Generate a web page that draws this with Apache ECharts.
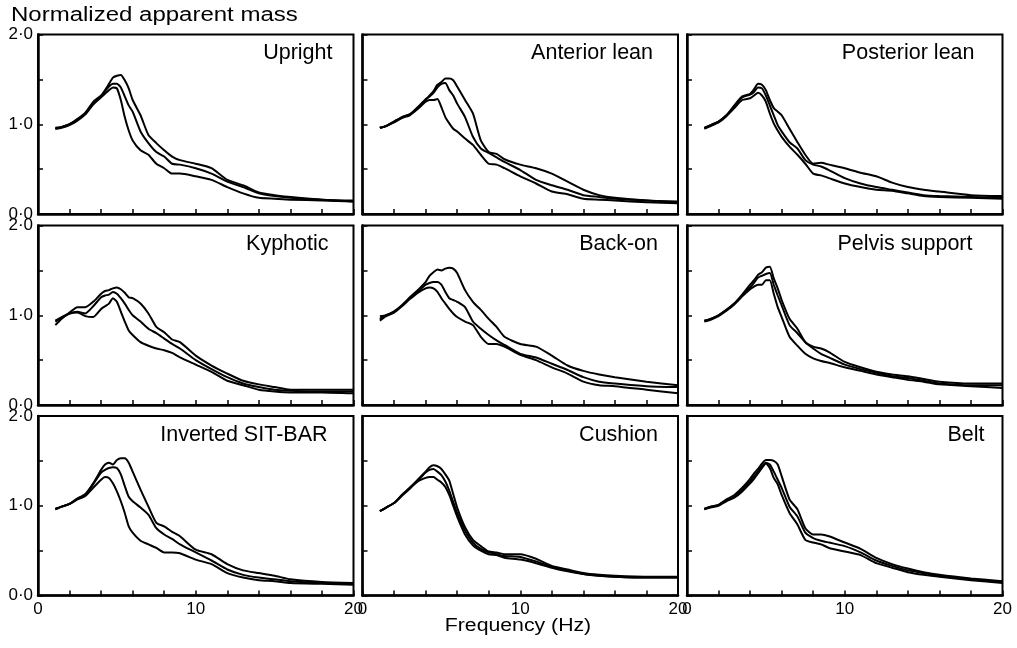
<!DOCTYPE html>
<html>
<head>
<meta charset="utf-8">
<script src="https://cdn.jsdelivr.net/npm/echarts@6/dist/echarts.min.js"></script>
<style>
  html, body { margin: 0; padding: 0; background: #fff; }
  #chart { width: 1017px; height: 648px; }
</style>
</head>
<body>
<div id="chart"></div>
<script>
// ---- Data ----
const FREQ = [1.1,1.5,2,2.5,3,3.5,4,4.25,4.5,4.75,5,5.25,5.5,5.75,6,6.5,7,7.5,8,8.5,9,10,11,12,13,14,15,16,18,20];
const PANEL_NAMES = ['Upright','Anterior lean','Posterior lean','Kyphotic','Back-on','Pelvis support','Inverted SIT-BAR','Cushion','Belt'];
const X_TICK_LABELS = ['0','10','20'];
const Y_TICK_LABELS = ['0·0','1·0','2·0'];
const Y_TITLE = 'Normalized apparent mass';
const X_TITLE = 'Frequency (Hz)';

const UPRIGHT_A = [0.96,0.97,1.00,1.06,1.13,1.25,1.32,1.38,1.45,1.52,1.54,1.55,1.49,1.40,1.27,1.10,0.88,0.79,0.71,0.64,0.60,0.56,0.51,0.38,0.32,0.24,0.21,0.19,0.16,0.15];
const UPRIGHT_B = [0.95,0.97,1.00,1.05,1.12,1.23,1.31,1.37,1.42,1.45,1.45,1.41,1.31,1.21,1.14,0.92,0.79,0.69,0.64,0.56,0.55,0.51,0.45,0.36,0.30,0.23,0.20,0.18,0.16,0.14];
const UPRIGHT_C = [0.95,0.96,0.99,1.04,1.11,1.22,1.30,1.34,1.38,1.41,1.40,1.27,1.08,0.93,0.82,0.71,0.66,0.56,0.51,0.45,0.45,0.42,0.38,0.30,0.23,0.18,0.17,0.16,0.15,0.14];

const ANTERIOR_A = [0.96,0.98,1.03,1.08,1.11,1.18,1.27,1.32,1.37,1.44,1.47,1.51,1.51,1.49,1.42,1.27,1.12,0.82,0.69,0.67,0.61,0.55,0.51,0.45,0.36,0.27,0.21,0.18,0.15,0.14];
const ANTERIOR_B = [0.96,0.98,1.03,1.08,1.11,1.19,1.28,1.31,1.35,1.41,1.45,1.46,1.38,1.32,1.23,1.08,0.86,0.73,0.68,0.63,0.58,0.49,0.38,0.32,0.27,0.21,0.19,0.17,0.15,0.13];
const ANTERIOR_C = [0.96,0.98,1.02,1.07,1.10,1.17,1.25,1.27,1.27,1.28,1.19,1.08,1.01,0.95,0.92,0.84,0.77,0.66,0.56,0.55,0.51,0.42,0.34,0.25,0.22,0.17,0.16,0.15,0.13,0.12];

const POSTERIOR_A = [0.96,0.99,1.03,1.10,1.21,1.31,1.34,1.39,1.45,1.44,1.38,1.27,1.18,1.14,1.10,0.95,0.80,0.66,0.56,0.57,0.55,0.51,0.46,0.42,0.35,0.30,0.27,0.25,0.21,0.20];
const POSTERIOR_B = [0.96,0.99,1.03,1.10,1.20,1.30,1.33,1.36,1.41,1.40,1.32,1.21,1.10,0.99,0.92,0.80,0.73,0.60,0.55,0.53,0.49,0.40,0.34,0.30,0.27,0.24,0.21,0.20,0.19,0.18];
const POSTERIOR_C = [0.95,0.98,1.02,1.09,1.18,1.27,1.29,1.32,1.35,1.32,1.25,1.12,1.01,0.93,0.86,0.75,0.66,0.56,0.45,0.43,0.40,0.34,0.30,0.27,0.26,0.23,0.20,0.19,0.18,0.17];

const KYPHOTIC_A = [0.89,0.96,1.03,1.09,1.09,1.15,1.24,1.27,1.28,1.30,1.31,1.29,1.25,1.20,1.19,1.13,1.02,0.87,0.81,0.73,0.70,0.55,0.44,0.35,0.27,0.23,0.20,0.17,0.17,0.17];
const KYPHOTIC_B = [0.93,0.97,1.02,1.04,1.02,1.10,1.20,1.22,1.23,1.26,1.24,1.19,1.13,1.06,1.00,0.93,0.85,0.80,0.74,0.68,0.63,0.50,0.40,0.31,0.24,0.20,0.17,0.16,0.15,0.15];
const KYPHOTIC_C = [0.94,0.98,1.02,1.03,0.99,0.98,1.07,1.10,1.13,1.19,1.15,1.04,0.93,0.83,0.78,0.70,0.66,0.63,0.61,0.58,0.53,0.45,0.37,0.27,0.22,0.17,0.15,0.14,0.14,0.13];

const BACKON_A = [0.99,1.00,1.04,1.11,1.20,1.28,1.37,1.44,1.48,1.51,1.50,1.52,1.53,1.52,1.47,1.28,1.15,1.06,0.96,0.87,0.76,0.68,0.65,0.55,0.44,0.38,0.34,0.31,0.26,0.22];
const BACKON_B = [0.96,1.00,1.04,1.11,1.19,1.26,1.34,1.36,1.37,1.37,1.34,1.26,1.19,1.17,1.15,1.09,0.93,0.85,0.78,0.72,0.67,0.57,0.53,0.46,0.39,0.31,0.26,0.24,0.21,0.20];
const BACKON_C = [0.94,0.99,1.03,1.10,1.18,1.25,1.30,1.31,1.30,1.26,1.19,1.13,1.07,1.02,0.98,0.93,0.89,0.76,0.68,0.68,0.65,0.56,0.50,0.42,0.35,0.26,0.22,0.21,0.17,0.13];

const PELVIS_A = [0.94,0.96,1.00,1.06,1.13,1.23,1.34,1.39,1.45,1.48,1.53,1.54,1.41,1.30,1.17,0.96,0.85,0.70,0.65,0.63,0.59,0.48,0.42,0.37,0.34,0.32,0.29,0.26,0.24,0.24];
const PELVIS_B = [0.94,0.96,1.00,1.06,1.13,1.22,1.31,1.36,1.42,1.44,1.46,1.47,1.34,1.22,1.11,0.89,0.80,0.70,0.63,0.57,0.53,0.45,0.40,0.36,0.32,0.30,0.27,0.24,0.22,0.22];
const PELVIS_C = [0.93,0.95,0.99,1.05,1.12,1.21,1.29,1.32,1.34,1.34,1.39,1.39,1.24,1.09,0.98,0.76,0.66,0.57,0.52,0.49,0.47,0.42,0.38,0.34,0.31,0.28,0.26,0.23,0.21,0.19];

const INVERTED_A = [0.97,0.99,1.02,1.08,1.13,1.25,1.40,1.46,1.48,1.46,1.51,1.53,1.53,1.48,1.38,1.18,0.99,0.81,0.77,0.71,0.66,0.51,0.46,0.35,0.28,0.25,0.22,0.18,0.15,0.14];
const INVERTED_B = [0.96,0.99,1.02,1.08,1.12,1.24,1.37,1.40,1.42,1.43,1.42,1.35,1.22,1.10,1.05,0.98,0.90,0.75,0.68,0.63,0.57,0.48,0.39,0.29,0.23,0.20,0.18,0.16,0.14,0.13];
const INVERTED_C = [0.96,0.99,1.02,1.07,1.11,1.20,1.29,1.32,1.31,1.25,1.16,1.05,0.92,0.77,0.70,0.61,0.57,0.53,0.48,0.48,0.47,0.40,0.35,0.25,0.20,0.17,0.16,0.14,0.13,0.12];

const CUSHION_A = [0.94,0.98,1.03,1.12,1.20,1.29,1.38,1.43,1.45,1.44,1.41,1.35,1.28,1.13,0.98,0.76,0.62,0.55,0.49,0.48,0.46,0.46,0.41,0.33,0.29,0.25,0.23,0.22,0.21,0.21];
const CUSHION_B = [0.94,0.98,1.03,1.12,1.20,1.28,1.37,1.40,1.41,1.38,1.34,1.27,1.17,1.04,0.92,0.72,0.59,0.52,0.48,0.46,0.44,0.43,0.38,0.32,0.28,0.24,0.22,0.21,0.20,0.20];
const CUSHION_C = [0.94,0.98,1.03,1.11,1.19,1.27,1.31,1.32,1.32,1.29,1.26,1.21,1.12,1.00,0.88,0.68,0.56,0.50,0.46,0.45,0.42,0.40,0.36,0.31,0.27,0.24,0.22,0.21,0.20,0.20];

const BELT_A = [0.97,0.99,1.01,1.07,1.12,1.20,1.30,1.36,1.41,1.47,1.51,1.51,1.50,1.46,1.33,1.07,0.96,0.75,0.68,0.68,0.66,0.59,0.52,0.42,0.35,0.30,0.26,0.23,0.19,0.16];
const BELT_B = [0.96,0.99,1.01,1.06,1.10,1.18,1.27,1.33,1.38,1.44,1.48,1.46,1.38,1.29,1.20,0.99,0.88,0.70,0.64,0.61,0.59,0.55,0.48,0.39,0.33,0.28,0.25,0.22,0.18,0.15];
const BELT_C = [0.96,0.98,1.00,1.05,1.09,1.16,1.25,1.30,1.36,1.42,1.47,1.42,1.31,1.24,1.12,0.92,0.79,0.62,0.59,0.57,0.53,0.49,0.45,0.36,0.31,0.26,0.23,0.21,0.17,0.14];

const PANEL_SERIES = [
  [UPRIGHT_A, UPRIGHT_B, UPRIGHT_C],
  [ANTERIOR_A, ANTERIOR_B, ANTERIOR_C],
  [POSTERIOR_A, POSTERIOR_B, POSTERIOR_C],
  [KYPHOTIC_A, KYPHOTIC_B, KYPHOTIC_C],
  [BACKON_A, BACKON_B, BACKON_C],
  [PELVIS_A, PELVIS_B, PELVIS_C],
  [INVERTED_A, INVERTED_B, INVERTED_C],
  [CUSHION_A, CUSHION_B, CUSHION_C],
  [BELT_A, BELT_B, BELT_C]
];

// ---- Layout (styling only) ----
const COL_LEFT = [38, 362.5, 687];
const ROW_TOP = [34.5, 225.5, 416];
const PANEL_W = 315.5;
const PANEL_H = 179.5;
const LABEL_INSET = [21, 25, 28, 25, 20, 30, 26, 20, 18];
const FONT = '"Liberation Sans", Arial, Helvetica, sans-serif';

const chart = echarts.init(document.getElementById('chart'), null, { renderer: 'canvas' });

const grids = [], xAxes = [], yAxes = [], series = [], graphics = [];
PANEL_NAMES.forEach((name, i) => {
  const row = Math.floor(i / 3), col = i % 3;
  grids.push({
    left: COL_LEFT[col], top: ROW_TOP[row], width: PANEL_W, height: PANEL_H,
    show: true, borderColor: '#000', borderWidth: 2, backgroundColor: 'transparent'
  });
  xAxes.push({
    gridIndex: i, type: 'value', min: 0, max: 20, interval: 2,
    axisLine: { show: true, onZero: false, lineStyle: { color: '#000', width: 2.5 } },
    axisTick: { show: true, inside: true, length: 5, lineStyle: { color: '#000', width: 1.5 } },
    axisLabel: {
      show: row === 2, color: '#000', fontSize: 17, fontFamily: FONT, margin: 5,
      formatter: v => (v % 10 === 0 ? X_TICK_LABELS[v / 10] : '')
    },
    splitLine: { show: false }
  });
  yAxes.push({
    gridIndex: i, type: 'value', min: 0, max: 2, interval: 0.5,
    axisLine: { show: true, onZero: false, lineStyle: { color: '#000', width: 2.5 } },
    axisTick: { show: true, inside: true, length: 5, lineStyle: { color: '#000', width: 1.5 } },
    axisLabel: {
      show: col === 0, color: '#000', fontSize: 17, fontFamily: FONT, margin: 5,
      formatter: v => (Math.abs(v - Math.round(v)) < 1e-9 ? Y_TICK_LABELS[Math.round(v)] : '')
    },
    splitLine: { show: false }
  });
  PANEL_SERIES[i].forEach(vals => {
    series.push({
      type: 'line', xAxisIndex: i, yAxisIndex: i,
      data: FREQ.map((f, k) => [f, vals[k]]),
      showSymbol: false, smooth: 0.2, clip: true, silent: true,
      lineStyle: { color: '#000', width: 2 }
    });
  });
  graphics.push({
    type: 'text',
    x: COL_LEFT[col] + PANEL_W - LABEL_INSET[i],
    y: ROW_TOP[row] + 8,
    style: { text: name, textAlign: 'right', textVerticalAlign: 'top', fill: '#000', font: '21.5px ' + FONT }
  });
});

graphics.push({
  type: 'text', x: 11, y: 5.5, scaleX: 1.2, scaleY: 1,
  style: { text: Y_TITLE, textAlign: 'left', textVerticalAlign: 'top', fill: '#000', font: '20px ' + FONT }
});
graphics.push({
  type: 'text', x: 518, y: 617, scaleX: 1.18, scaleY: 1,
  style: { text: X_TITLE, textAlign: 'center', textVerticalAlign: 'top', fill: '#000', font: '18px ' + FONT }
});

chart.setOption({
  animation: false,
  backgroundColor: '#fff',
  grid: grids,
  xAxis: xAxes,
  yAxis: yAxes,
  series: series,
  graphic: graphics
});
</script>
</body>
</html>
